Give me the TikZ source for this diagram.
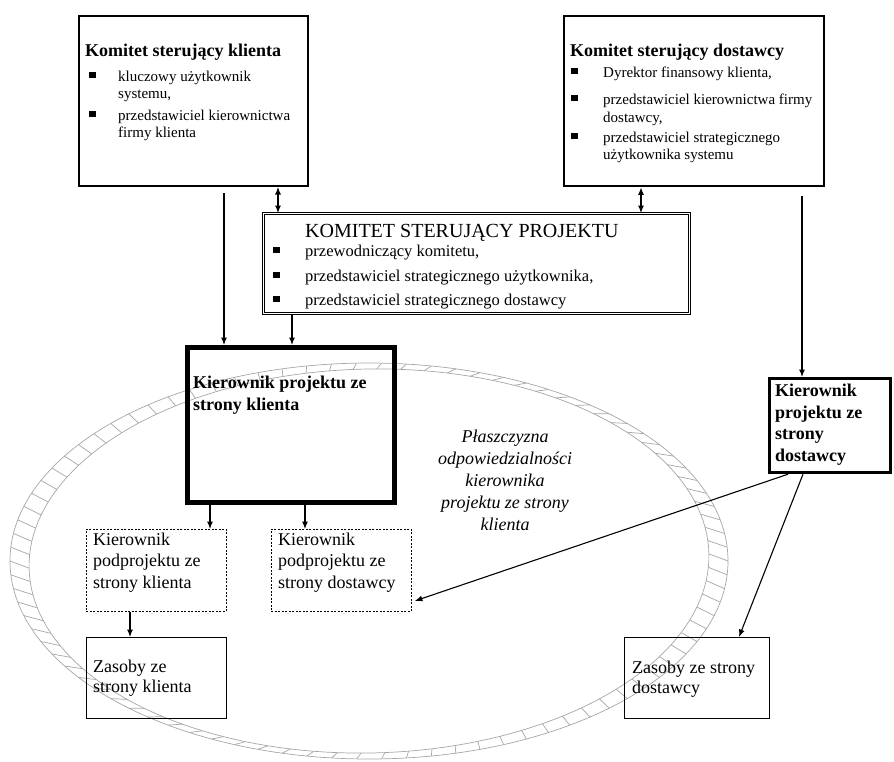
\documentclass[tikz,border=0pt]{standalone}
\usepackage{fontspec}
\setmainfont{Liberation Serif}
\usetikzlibrary{arrows.meta}
\newcommand{\bsq}{\rule[3pt]{6.5pt}{6.5pt}}
\newcommand{\bcell}[2]{\makebox[#1][l]{\hspace*{#2}\bsq}}
\begin{document}
\begin{tikzpicture}[x=1pt,y=-1pt,
  box/.style={draw, inner sep=0pt, anchor=north west},
  txt/.style={inner sep=0pt, anchor=base west},
  arr/.style={-{Latex[length=7.5pt,width=6pt]}, line width=1.1pt},
  darr/.style={{Latex[length=7.5pt,width=6pt]}-{Latex[length=7.5pt,width=6pt]}, line width=1.1pt},
  ring/.style={draw=black!35, line width=0.7pt}]
\useasboundingbox (0,0) rectangle (894,761);
% ring (plane of responsibility)
\def\cx{369}\def\cy{561}\def\ph{-1.2}
\draw[ring] (\cx,\cy) ellipse [x radius=359, y radius=198];
\draw[ring] plot[domain=0:360, samples=181, variable=\t]
  ({\cx+340*cos(\t)*cos(\ph)-192*sin(\t)*sin(\ph)},{\cy+340*cos(\t)*sin(\ph)+192*sin(\t)*cos(\ph)}) -- cycle;
\foreach \t in {0,4,...,356}{
  \draw[ring] ({\cx+359*cos(\t)},{\cy+198*sin(\t)}) --
    ({\cx+340*cos(\t)*cos(\ph)-192*sin(\t)*sin(\ph)},{\cy+340*cos(\t)*sin(\ph)+192*sin(\t)*cos(\ph)});
}
% boxes
\node[box, line width=2pt, minimum width=229, minimum height=170] (ksk) at (78,15) {};
\node[box, line width=2.4pt, minimum width=260, minimum height=170] (ksd) at (563,15) {};
\node[box, double, double distance=1.6pt, line width=0.9pt, minimum width=426, minimum height=100] (ksp) at (263,213) {};
\node[box, line width=5pt, minimum width=207, minimum height=155] (kpk) at (185,345) {};
\node[box, line width=3.2pt, minimum width=121, minimum height=94] (kpd) at (768,377) {};
\node[box, line width=0.9pt, dash pattern=on 2pt off 1.5pt, minimum width=140, minimum height=82] (kspk) at (86,529) {};
\node[box, line width=0.9pt, dash pattern=on 2pt off 1.5pt, minimum width=140, minimum height=82] (kspd) at (271,529) {};
\node[box, line width=0.9pt, minimum width=140, minimum height=81] (zk) at (86,637) {};
\node[box, line width=0.9pt, minimum width=145, minimum height=81] (zd) at (624,637) {};
% texts
\node[txt] (tksk) at (85,56) {\fontsize{15}{17}\selectfont
  \begin{tabular}[t]{@{}l@{}l@{}}
  \multicolumn{2}{@{}l@{}}{\fontsize{18}{17}\selectfont\bfseries Komitet sterujący klienta}\\[8pt]
  \bcell{33pt}{4pt} & kluczowy użytkownik\\
   & systemu,\\[5pt]
  \bcell{33pt}{4pt} & przedstawiciel kierownictwa\\
   & firmy klienta
  \end{tabular}};
\node[txt] (tksd) at (570,56) {\fontsize{15}{17}\selectfont
  \begin{tabular}[t]{@{}l@{}l@{}}
  \multicolumn{2}{@{}l@{}}{\fontsize{18}{17}\selectfont\bfseries Komitet sterujący dostawcy}\\[4pt]
  \bcell{33pt}{1pt} & Dyrektor finansowy klienta,\\[10pt]
  \bcell{33pt}{1pt} & przedstawiciel kierownictwa firmy\\[1pt]
   & dostawcy,\\[3pt]
  \bcell{33pt}{1pt} & przedstawiciel strategicznego\\
   & użytkownika systemu
  \end{tabular}};
\node[txt] (tksp) at (273,237) {\fontsize{16.5}{19}\selectfont
  \begin{tabular}[t]{@{}l@{}l@{}}
   & {\fontsize{20}{19}\selectfont KOMITET STERUJĄCY PROJEKTU}\\
  \bcell{32pt}{0pt} & przewodniczący komitetu,\\[6pt]
  \bcell{32pt}{0pt} & przedstawiciel strategicznego użytkownika,\\[5pt]
  \bcell{32pt}{0pt} & przedstawiciel strategicznego dostawcy
  \end{tabular}};
\node[txt] (tkpk) at (193,388) {\fontsize{18}{22}\selectfont\bfseries
  \begin{tabular}[t]{@{}l@{}}Kierownik projektu ze\\ strony klienta\end{tabular}};
\node[txt] (tkpd) at (775,396.5) {\fontsize{18}{21.5}\selectfont\bfseries
  \begin{tabular}[t]{@{}l@{}}Kierownik\\ projektu ze\\ strony\\ dostawcy\end{tabular}};
\node[txt] (tkspk) at (93,545) {\fontsize{18}{21.5}\selectfont
  \begin{tabular}[t]{@{}l@{}}Kierownik\\ podprojektu ze\\ strony klienta\end{tabular}};
\node[txt] (tkspd) at (278,545) {\fontsize{18}{21.5}\selectfont
  \begin{tabular}[t]{@{}l@{}}Kierownik\\ podprojektu ze\\ strony dostawcy\end{tabular}};
\node[txt] (tzk) at (93,672) {\fontsize{18}{20}\selectfont
  \begin{tabular}[t]{@{}l@{}}Zasoby ze\\ strony klienta\end{tabular}};
\node[txt] (tzd) at (632,673) {\fontsize{18}{20}\selectfont
  \begin{tabular}[t]{@{}l@{}}Zasoby ze strony\\ dostawcy\end{tabular}};
\node[inner sep=0pt, anchor=base] (tpl) at (505,442) {\fontsize{18}{22}\selectfont\itshape
  \begin{tabular}[t]{@{}c@{}}Płaszczyzna\\ odpowiedzialności\\ kierownika\\ projektu ze strony\\ klienta\end{tabular}};
% connectors
\draw[darr] ([xshift=200pt]ksk.south west) -- ([xshift=15pt]ksp.north west);
\draw[darr] ([xshift=78pt]ksd.south west) -- ([xshift=378pt]ksp.north west);
\draw[arr] ([xshift=146pt,yshift=-6pt]ksk.south west) -- ([xshift=39pt]kpk.north west);
\draw[arr] ([xshift=29pt]ksp.south west) -- ([xshift=107pt]kpk.north west);
\draw[arr] ([xshift=239pt,yshift=-9pt]ksd.south west) -- ([xshift=34pt]kpd.north west);
\draw[arr] ([xshift=25pt]kpk.south west) -- ([xshift=124pt]kspk.north west);
\draw[arr] ([xshift=120pt]kpk.south west) -- ([xshift=34pt]kspd.north west);
\draw[arr] ([xshift=44pt]kspk.south west) -- ([xshift=44pt]zk.north west);
\draw[arr] ([xshift=20pt]kpd.south west) -- ([xshift=3pt,yshift=11pt]kspd.south east);
\draw[arr] ([xshift=35pt]kpd.south west) -- ([xshift=115pt]zd.north west);
\end{tikzpicture}
\end{document}
